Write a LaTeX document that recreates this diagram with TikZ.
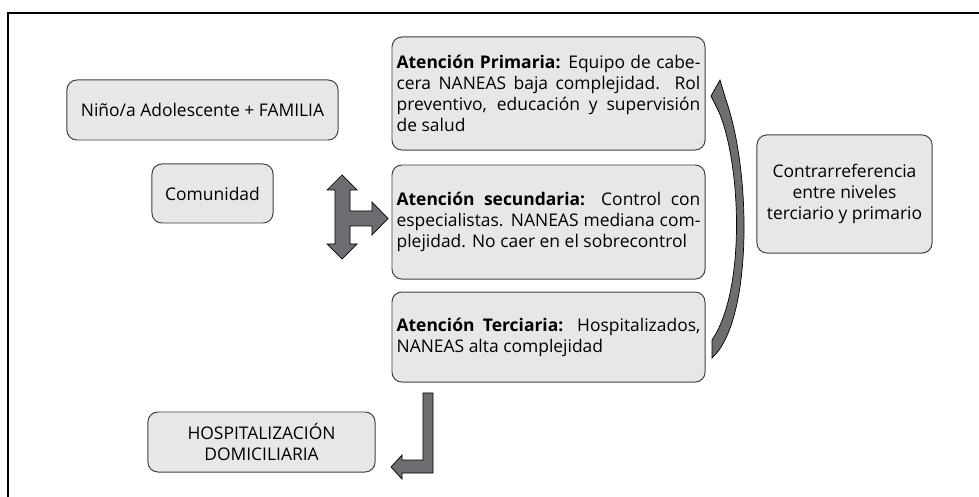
\documentclass[tikz,border=0pt]{standalone}
\usepackage{fontspec}
\setmainfont{Open Sans}
\usetikzlibrary{positioning}
\definecolor{boxgray}{RGB}{230,231,232}
\definecolor{arrowgray}{RGB}{109,110,113}
\tikzstyle{level} = [draw=black!75, rectangle, fill=boxgray, rounded corners=7pt, line width=0.7pt, text width=216pt, align=justify, inner xsep=3.3pt, font=\fontsize{12.4}{14.8}\selectfont]
\tikzstyle{actor} = [draw=black!75, rectangle, fill=boxgray, rounded corners=7pt, line width=0.7pt, align=center, inner sep=0pt, font=\fontsize{12.4}{14.8}\selectfont]
\tikzstyle{blockarrow} = [fill=arrowgray, draw=black, line width=0.5pt, line join=miter]

\begin{document}
\begin{tikzpicture}[x=0.025cm, y=-0.025cm]
    \useasboundingbox (0,0) rectangle (979,497);
    % Frame
    \draw [line width=1pt] (979,13) -- (8,13) -- (8,497);

    % Place nodes
    \node [actor, minimum width=6.775cm, minimum height=1.5cm] (familia) at (202.5,110) {Niño/a Adolescente + FAMILIA};
    \node [actor, minimum width=3.025cm, minimum height=1.475cm] (comunidad) at (212.5,193.5) {Comunidad};
    \node [level, minimum height=2.825cm] (primaria) at (548.5,93.5)
        {\textbf{Atención Primaria:} Equipo de cabe-\linebreak cera NANEAS baja complejidad. Rol\linebreak preventivo, educación y supervisión\linebreak de salud};
    \node [level, minimum height=2.85cm, below=0.35cm of primaria] (secundaria)
        {\textbf{Atención secundaria:} Control con\linebreak especialistas. NANEAS mediana com-\linebreak plejidad. No caer en el sobrecontrol};
    \node [level, minimum height=2.25cm, below=0.3cm of secundaria] (terciaria)
        {\textbf{Atención Terciaria:} Hospitalizados,\linebreak NANEAS alta complejidad};
    \node [actor, minimum width=4.375cm, minimum height=2.95cm] (contra) at (844.5,194) {Contrarreferencia\\entre niveles\\terciario y primario};
    \node [actor, minimum width=5.675cm, minimum height=1.5cm] (domicilio) at (261.5,442) {HOSPITALIZACIÓN\\DOMICILIARIA};

    % Block arrows
    % three-way arrow towards the secondary level
    \path [blockarrow] (342,175) -- (357,190) -- (350,190) -- (350,211) -- (372,211) -- (372,202)
        -- (388,218.5) -- (372,235) -- (372,226) -- (350,226) -- (350,244) -- (357,244)
        -- (342,259) -- (327,244) -- (335,244) -- (335,190) -- (327,190) -- cycle;
    % bent arrow down to home hospitalisation
    \path [blockarrow] (423,393) -- (433,393) -- (433,473) -- (402,473) -- (402,479)
        -- (391,467) -- (402,455) -- (402,460) -- (423,460) -- cycle;
    % curved arrow from tertiary back to primary level
    \path [blockarrow] (720,80) -- (711,96) -- (719,112)
        .. controls (741,165) and (746,290) .. (712,340) -- (712,358)
        .. controls (752,322) and (752,175) .. (726,100) -- cycle;
\end{tikzpicture}
\end{document}
